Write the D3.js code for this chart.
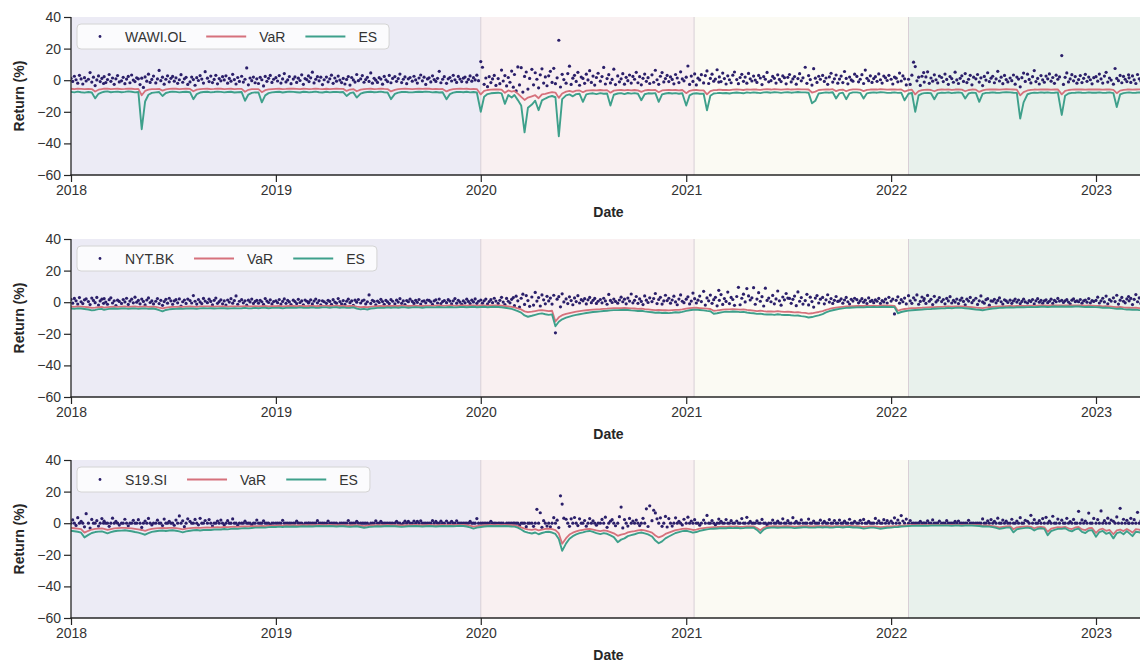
<!DOCTYPE html>
<html>
<head>
<meta charset="utf-8">
<script src="https://cdn.jsdelivr.net/npm/d3@7"></script>
<style>
  html, body { margin: 0; padding: 0; background: #ffffff; }
  svg { display: block; }
</style>
</head>
<body>
<svg id="chart" width="1140" height="664"></svg>
<script>
// ---------------------------------------------------------------
// Daily returns (%) sampled ten times per month, Jan 2018 - Mar 2023,
// with rolling 1-day VaR and ES (%) sampled five times per month.
// One row per month.
// ---------------------------------------------------------------
const tickers = ["WAWI.OL", "NYT.BK", "S19.SI"];
const yearTicks = [2018, 2019, 2020, 2021, 2022, 2023];
const returnTicks = [-60, -40, -20, 0, 20, 40];
const periodStarts = ["2018-01-01", "2020-01-01", "2021-01-15", "2022-02-01"];

const wawiReturns = [
  1.2,-0.8,2.5,0.3,-1.9,3.1,0.8,-2.4,1.6,-0.5,
  0.6,4.8,-1.2,1.9,-3.4,0.2,2.7,-0.9,1.1,-2.1,
  2.2,-1.5,0.4,3.6,-0.7,1.4,-2.6,0.9,2.9,-1.1,
  -0.4,1.8,-2.2,0.7,2.4,-1.6,3.3,0.1,-0.9,1.5,
  0.9,-2.8,1.3,-4.6,2.1,-0.6,3.8,-1.4,0.5,2.6,
  -1.7,0.8,6.2,-0.3,1.9,-2.5,0.6,2.8,-1.0,1.2,
  2.4,-0.6,1.5,-2.0,0.3,3.5,-1.3,0.9,1.8,-2.7,
  -1.1,2.0,0.4,-3.2,1.6,-0.2,2.9,0.7,-1.8,5.4,
  1.3,-0.9,2.6,-1.5,0.5,3.1,-2.3,1.0,-0.4,2.2,
  0.2,2.8,-1.9,1.1,-0.6,3.7,0.4,-2.4,1.7,-0.8,
  2.5,-1.2,0.6,7.8,-2.9,1.4,-0.3,2.0,-1.6,0.9,
  -2.1,1.8,0.3,-3.6,2.4,-0.7,1.2,3.0,-1.4,0.6,
  1.6,-0.5,2.9,-1.8,0.8,4.2,-1.1,0.2,2.3,-2.2,
  0.7,2.1,-1.4,1.3,-0.2,3.4,-2.6,1.0,0.4,2.7,
  -0.9,1.5,5.1,-1.7,0.6,2.2,-0.4,1.9,-2.8,0.3,
  2.0,-1.0,0.9,3.2,-2.0,1.4,-0.6,2.6,0.1,-1.5,
  1.1,-2.4,0.5,2.3,-3.1,1.7,0.2,-1.2,3.6,-0.3,
  0.8,2.9,-1.3,0.4,1.8,-0.8,4.6,-1.9,1.2,0.0,
  -1.4,1.6,0.7,-2.5,2.4,0.3,-0.9,3.0,-1.6,1.1,
  2.3,-0.7,1.0,3.9,-1.5,0.6,2.1,-2.2,0.9,1.7,
  -0.6,2.5,0.2,-1.8,1.4,3.3,-0.4,1.9,-2.7,0.8,
  1.5,-1.1,2.8,0.4,-0.8,1.2,5.6,-1.6,0.6,2.2,
  -2.0,0.9,1.7,-0.5,3.1,0.3,-1.4,2.4,0.7,-0.9,
  1.3,2.0,-1.2,0.5,2.7,-0.6,1.6,0.2,3.2,-0.3,
  11.8,8.2,-2.6,1.4,-4.1,2.2,-1.5,0.8,3.0,-3.3,
  1.0,-2.2,6.4,-0.5,2.9,-3.6,1.7,-1.3,5.8,-4.4,
  3.6,-6.8,8.4,-3.0,7.9,-7.5,2.4,5.2,-5.6,1.1,
  6.9,-2.9,4.7,0.6,-4.8,3.4,7.2,-1.8,2.1,-3.5,
  2.8,5.6,-1.4,7.5,-2.2,1.5,25.3,-4.3,3.7,0.4,
  -1.9,4.2,8.9,-2.7,1.3,3.1,-0.8,5.0,-3.2,2.0,
  1.1,-2.0,3.8,0.2,6.0,-1.4,2.6,-3.1,1.7,4.4,
  -0.6,2.3,8.1,-2.4,1.0,3.5,-1.7,0.5,7.0,-2.8,
  2.7,-1.0,0.9,4.1,-2.5,1.8,-0.3,3.3,-1.8,2.4,
  0.6,5.0,-1.6,2.2,-2.9,1.2,3.9,-0.7,1.6,-2.1,
  3.4,-1.3,6.3,0.3,-2.6,2.5,4.8,-1.1,1.0,3.0,
  -0.9,2.1,0.5,-2.3,3.6,1.4,-1.5,5.3,0.8,-0.4,
  1.9,9.0,-2.7,2.6,-0.8,4.0,-3.0,1.3,0.2,3.5,
  -1.7,2.9,5.9,-2.1,1.1,3.8,-0.6,0.7,6.6,-1.2,
  2.1,-0.9,4.5,1.0,-2.4,2.8,0.3,-1.6,3.2,5.2,
  0.4,-2.2,1.7,3.7,-0.7,2.0,-1.9,4.3,0.9,-0.5,
  2.6,0.1,-1.4,3.0,1.4,-2.8,2.2,0.6,4.9,-1.0,
  -0.3,2.4,1.2,-1.8,3.4,0.5,-0.9,2.7,1.6,-2.3,
  1.8,3.6,-1.1,0.8,2.3,-2.5,1.0,4.1,-0.4,1.5,
  8.2,-2.0,2.9,0.4,-3.1,7.3,1.3,-1.4,2.5,0.6,
  3.0,-0.8,1.4,-2.6,2.1,4.4,-1.2,0.9,3.3,-1.9,
  0.7,2.6,-1.5,5.5,1.1,-2.3,2.0,0.2,-0.6,3.8,
  2.4,-1.0,0.6,3.5,-2.1,6.4,1.2,-0.3,2.8,-1.4,
  1.0,2.2,-0.7,4.0,0.3,-1.8,2.6,1.5,-0.2,3.1,
  0.6,-2.4,2.0,1.3,-1.0,4.5,-0.5,2.7,0.9,-3.0,
  0.6,-2.7,3.2,11.4,8.6,-0.4,1.9,-3.3,2.5,4.8,
  -1.2,2.1,5.3,-2.0,1.4,-0.6,3.4,0.3,-1.7,2.6,
  1.7,-0.9,3.9,0.5,-2.6,2.3,1.0,-1.3,5.1,0.2,
  -2.1,1.2,2.8,-0.8,4.2,-1.5,0.6,3.1,-2.9,1.9,
  0.9,3.6,-1.2,1.5,-3.4,2.4,0.1,4.7,-0.9,1.3,
  2.5,-1.6,0.8,5.6,-0.5,1.9,-2.2,3.0,0.4,-1.1,
  1.4,-0.3,3.3,-2.5,2.0,0.7,-4.2,1.6,4.5,-0.8,
  3.8,0.5,-1.7,2.2,6.1,-0.9,1.1,-2.4,2.9,0.2,
  -1.3,2.6,0.9,4.0,-0.6,1.7,-2.0,3.2,0.6,2.1,
  15.6,-2.7,1.8,4.6,-1.1,0.8,3.5,-0.4,2.3,-1.9,
  0.4,2.9,-1.5,1.2,3.7,-0.7,2.0,0.3,-2.3,1.6,
  2.2,-0.6,3.9,0.8,-1.8,2.6,5.0,-1.2,1.4,0.1,
  -2.5,7.4,1.1,-0.3,3.0,-1.6,2.4,0.6,-0.9,3.4,
  1.5,-1.4,2.7,0.2,-2.1,3.6,0.9,-0.5,2.0,1.2
];
const wawiVaR = [
  -5.4,-5.6,-5.3,-5.5,-5.7, -5.5,-5.6,-7.2,-6.0,-5.6, -5.4,-5.3,-5.6,-5.5,-5.4,
  -5.6,-5.5,-5.3,-5.4,-5.6, -5.5,-9.5,-6.8,-6.0,-5.7, -5.6,-5.5,-6.6,-5.8,-5.5,
  -5.3,-5.4,-5.6,-5.5,-5.4, -5.5,-7.0,-6.0,-5.6,-5.5, -5.4,-5.6,-5.5,-5.3,-5.4,
  -5.6,-5.5,-5.4,-5.6,-5.5, -5.5,-7.3,-6.1,-5.7,-5.6, -5.6,-7.6,-6.3,-5.8,-5.6,
  -5.5,-5.4,-5.6,-5.5,-5.3, -5.4,-5.5,-5.6,-5.4,-5.5, -5.6,-5.5,-5.3,-5.5,-5.6,
  -5.4,-5.6,-5.5,-5.4,-5.5, -5.5,-6.8,-5.9,-5.6,-7.0, -6.0,-5.7,-5.5,-5.4,-5.6,
  -5.5,-5.3,-5.5,-5.6,-7.1, -6.1,-5.7,-5.5,-5.4,-5.5, -5.6,-5.5,-5.4,-5.5,-5.3,
  -5.4,-5.6,-5.5,-5.6,-5.5, -7.1,-6.1,-5.7,-5.5,-5.4, -5.5,-5.4,-5.6,-5.5,-5.6,
  -9.0,-6.8,-6.2,-6.0,-5.9, -5.8,-6.0,-8.0,-6.5,-7.2, -6.8,-8.5,-10.5,-12.5,-11.0,
  -10.2,-9.5,-11.4,-9.0,-8.6, -8.0,-7.6,-7.8,-11.2,-8.4, -7.2,-6.8,-7.4,-6.6,-6.5,
  -7.6,-6.6,-6.4,-6.3,-6.5, -6.2,-6.4,-6.3,-7.9,-6.6, -6.3,-6.2,-6.5,-6.1,-6.4,
  -6.2,-6.4,-7.4,-6.5,-6.2, -6.3,-6.2,-7.6,-6.5,-6.3, -6.1,-6.3,-6.2,-6.4,-6.2,
  -8.2,-6.7,-6.3,-6.2,-6.4, -6.4,-9.0,-6.9,-6.3,-6.2, -6.0,-6.2,-6.1,-6.3,-6.0,
  -5.9,-6.0,-6.2,-5.8,-6.0, -5.8,-5.9,-6.1,-5.8,-5.7, -5.9,-5.7,-5.8,-6.0,-5.8,
  -5.7,-5.9,-5.8,-5.6,-5.8, -5.8,-5.9,-7.8,-7.2,-6.2, -6.0,-5.8,-5.9,-5.7,-6.9,
  -6.1,-5.9,-7.0,-6.1,-5.8, -5.8,-6.0,-6.9,-6.1,-5.9, -5.8,-5.9,-5.7,-5.8,-6.0,
  -5.9,-5.8,-6.0,-5.9,-7.2, -6.3,-6.0,-9.0,-6.9,-6.3, -6.1,-6.0,-6.2,-7.0,-6.1,
  -5.9,-6.0,-5.8,-6.1,-5.9, -5.8,-6.0,-7.0,-6.2,-5.9, -6.0,-7.4,-6.4,-6.0,-5.9,
  -5.8,-5.9,-6.0,-5.8,-5.7, -5.8,-5.9,-6.0,-9.6,-7.5, -6.5,-6.1,-5.9,-6.0,-5.8,
  -5.9,-5.8,-6.0,-5.9,-5.8, -9.0,-6.8,-6.2,-6.0,-5.9, -5.8,-5.9,-6.0,-5.8,-5.9,
  -5.9,-5.8,-6.0,-5.9,-5.8, -6.1,-8.2,-6.6,-6.1,-5.9, -5.8,-6.0,-5.9,-5.8,-5.9
];
const wawiES = [
  -7.4,-7.7,-7.2,-7.6,-7.9, -7.5,-7.8,-11.5,-8.6,-7.7, -7.3,-7.1,-7.6,-7.4,-7.2,
  -7.6,-7.4,-7.1,-7.3,-7.7, -7.5,-31.0,-13.5,-9.2,-8.0, -7.7,-7.5,-10.0,-8.1,-7.5,
  -7.2,-7.4,-7.7,-7.5,-7.3, -7.6,-12.0,-8.8,-7.8,-7.5, -7.3,-7.7,-7.5,-7.2,-7.4,
  -7.7,-7.5,-7.3,-7.8,-7.6, -7.5,-13.0,-9.1,-8.0,-7.7, -7.8,-14.0,-9.6,-8.2,-7.7,
  -7.5,-7.3,-7.8,-7.5,-7.2, -7.4,-7.6,-7.8,-7.3,-7.5, -7.7,-7.5,-7.2,-7.6,-7.8,
  -7.3,-7.7,-7.5,-7.4,-7.6, -7.5,-10.0,-8.2,-7.7,-11.0, -8.5,-7.8,-7.5,-7.3,-7.6,
  -7.5,-7.2,-7.6,-7.8,-12.0, -8.7,-7.9,-7.5,-7.4,-7.6, -7.7,-7.5,-7.3,-7.5,-7.2,
  -7.4,-7.7,-7.5,-7.8,-7.6, -12.0,-8.8,-7.9,-7.5,-7.4, -7.6,-7.3,-7.7,-7.5,-7.8,
  -20.0,-10.5,-8.8,-8.3,-8.1, -7.9,-8.3,-15.0,-9.4,-11.0, -9.4,-12.6,-16.0,-33.0,-17.5,
  -15.4,-13.0,-19.0,-12.8,-11.6, -10.6,-10.0,-10.8,-35.5,-12.0, -9.6,-9.0,-10.2,-8.8,-8.6,
  -13.7,-9.0,-8.5,-8.3,-8.8, -8.2,-8.6,-8.4,-16.0,-9.2, -8.4,-8.2,-8.8,-8.1,-8.5,
  -8.2,-8.6,-12.7,-8.9,-8.3, -8.4,-8.2,-13.7,-9.0,-8.4, -8.1,-8.4,-8.2,-8.6,-8.3,
  -16.0,-9.6,-8.5,-8.3,-8.6, -8.6,-19.0,-9.8,-8.4,-8.2, -8.0,-8.3,-8.1,-8.4,-8.0,
  -7.8,-8.0,-8.3,-7.7,-8.0, -7.7,-7.9,-8.2,-7.7,-7.6, -7.9,-7.6,-7.7,-8.0,-7.7,
  -7.6,-7.9,-7.7,-7.5,-7.7, -7.7,-7.9,-14.6,-13.0,-8.4, -8.0,-7.7,-7.9,-7.6,-11.6,
  -8.3,-7.9,-12.0,-8.3,-7.7, -7.7,-8.0,-11.6,-8.3,-7.9, -7.7,-7.9,-7.6,-7.7,-8.0,
  -7.9,-7.7,-8.0,-7.9,-12.7, -8.6,-8.0,-20.0,-9.6,-8.5, -8.2,-8.0,-8.3,-12.0,-8.3,
  -7.9,-8.0,-7.7,-8.2,-7.9, -7.7,-8.0,-11.6,-8.4,-7.9, -8.0,-13.7,-8.7,-8.0,-7.9,
  -7.7,-7.9,-8.0,-7.7,-7.6, -7.7,-7.9,-8.0,-24.3,-14.0, -8.9,-8.2,-7.9,-8.0,-7.7,
  -7.9,-7.7,-8.0,-7.9,-7.7, -22.0,-9.8,-8.4,-8.0,-7.9, -7.7,-7.9,-8.0,-7.7,-7.9,
  -7.9,-7.7,-8.0,-7.9,-7.7, -8.2,-17.0,-9.0,-8.2,-7.9, -7.7,-8.0,-7.9,-7.7,-7.9
];

const nytReturns = [
  1.8,-0.6,2.4,0.9,-1.2,2.9,0.3,-0.9,1.5,2.1,
  0.4,-1.5,2.6,1.1,-0.3,3.0,-1.8,0.8,1.9,-0.7,
  2.2,0.1,-1.3,1.6,2.8,-0.5,0.9,-2.1,1.3,0.5,
  -0.8,1.7,0.2,2.5,-1.4,0.7,1.9,-0.4,3.2,0.0,
  1.1,-1.0,2.0,0.5,-1.7,1.4,2.7,-0.2,0.8,-1.1,
  0.6,2.3,-0.9,1.2,-2.0,0.4,1.8,-0.6,2.5,0.9,
  -1.3,0.8,1.6,-0.4,2.1,-2.4,0.3,1.4,-0.8,2.0,
  1.0,-0.5,4.2,0.6,-1.2,1.7,0.2,-0.9,2.4,0.7,
  -0.3,1.9,0.5,-1.6,1.2,2.6,-0.7,0.4,1.5,-1.0,
  0.8,-1.8,1.4,0.1,2.2,-0.6,1.0,4.0,-1.3,0.6,
  1.6,-0.4,0.9,-1.9,1.3,0.2,2.0,-0.8,0.5,1.1,
  -0.6,1.2,0.3,-1.4,2.3,0.7,-0.2,1.5,-1.1,0.4,
  0.9,-0.3,1.7,-1.2,0.5,2.1,-0.7,1.1,0.2,-1.5,
  1.3,0.4,-0.9,1.8,-0.2,0.8,-1.6,1.4,0.6,-0.5,
  0.2,1.5,-1.1,0.7,2.0,-0.4,1.0,-1.7,0.9,0.3,
  -0.7,1.2,0.5,-1.3,1.6,0.1,-0.6,2.3,0.4,-1.0,
  1.0,-1.4,0.6,1.9,-0.3,0.8,-2.0,1.3,0.0,1.7,
  -0.5,0.9,1.4,-1.1,0.3,4.6,-0.8,1.2,0.5,-1.6,
  0.7,-0.2,1.8,0.4,-1.3,1.1,0.2,-0.9,1.6,0.6,
  -1.0,1.3,0.1,2.2,-0.7,0.8,-1.5,1.0,0.3,1.9,
  0.5,-0.8,1.2,-0.1,1.7,-1.2,0.6,0.9,-0.4,1.4,
  1.1,0.2,-1.4,0.8,1.5,-0.5,2.0,-0.9,0.4,1.0,
  -0.3,1.6,0.7,-1.1,0.9,2.3,-0.6,1.2,0.1,-1.3,
  0.8,-0.4,1.9,0.5,-0.9,1.3,0.2,2.1,-0.7,0.6,
  1.4,-0.6,0.9,2.0,-1.1,0.4,1.6,-0.3,2.5,0.7,
  -0.8,1.2,3.1,0.1,-1.5,2.4,0.6,-0.4,1.8,2.9,
  -2.2,3.8,0.9,-3.1,2.5,5.1,-1.4,4.2,1.0,-2.6,
  3.3,-1.8,6.2,0.7,2.9,-2.4,4.6,1.5,-1.0,3.7,
  0.8,2.6,-1.2,4.4,-19.4,1.9,3.5,-2.9,5.3,0.2,
  2.1,-0.9,3.4,1.0,-1.6,2.7,0.4,4.1,-0.5,1.6,
  0.9,2.2,-1.1,1.5,3.0,-0.3,1.2,2.4,-0.8,0.6,
  1.7,-0.4,2.5,0.8,-1.3,4.9,1.1,-0.2,2.0,0.5,
  -0.6,1.4,3.2,0.3,1.9,-1.0,2.6,0.7,5.2,-0.4,
  1.2,3.6,-0.7,2.1,0.5,-1.5,4.0,1.3,-0.2,2.8,
  0.4,2.3,5.5,-0.9,1.7,3.1,-1.2,0.8,4.4,1.0,
  2.5,-0.6,1.4,3.8,0.2,-1.6,2.0,4.6,0.6,-0.3,
  1.9,3.4,-1.1,0.7,5.8,2.2,-0.5,1.3,3.9,0.4,
  6.9,-1.8,2.7,0.9,4.5,-0.7,1.6,3.1,-2.3,7.5,
  1.2,4.8,-1.4,2.3,0.5,6.4,-0.9,3.0,1.7,-2.0,
  3.6,9.4,-1.6,2.5,5.1,0.2,8.6,4.0,1.4,2.8,
  9.2,-1.3,2.0,6.0,0.6,3.5,-2.4,8.9,1.1,2.6,
  0.3,4.3,-1.0,2.1,7.1,0.9,-1.9,3.3,1.5,5.5,
  2.6,2.4,-0.7,1.8,3.9,-2.2,6.5,0.6,2.9,-1.2,
  1.0,5.0,-1.7,3.2,0.4,-3.1,2.6,4.2,-0.5,1.9,
  3.0,-1.0,1.5,4.7,0.1,2.3,-0.8,1.2,3.6,0.5,
  0.9,2.1,-0.6,1.4,3.0,0.3,-1.2,1.8,0.7,2.5,
  1.6,-0.4,0.8,2.2,0.0,1.3,-0.9,2.7,0.5,1.1,
  -0.3,1.5,0.6,2.4,-0.8,1.0,0.2,1.9,-0.5,3.1,
  0.7,2.0,-7.4,1.2,3.4,-0.6,1.6,0.3,2.6,-1.1,
  4.1,0.9,-0.7,2.8,1.4,4.6,-1.3,0.5,3.3,1.0,
  2.2,-0.8,4.3,0.6,1.8,-1.5,3.7,0.2,1.3,2.9,
  0.4,1.7,-1.0,2.4,0.8,3.5,-0.5,1.1,0.1,2.0,
  -0.9,1.3,2.6,0.5,-1.6,1.9,0.7,3.0,-0.3,1.2,
  2.5,-1.4,0.9,4.0,0.2,-0.6,1.6,2.2,-1.9,0.8,
  0.6,1.8,-0.4,1.1,2.7,0.3,-1.2,1.5,0.9,-0.2,
  1.3,-0.7,0.8,2.0,0.1,1.4,-0.9,0.5,1.9,0.2,
  -0.5,1.0,0.4,1.7,-1.1,0.9,2.2,0.0,1.2,-0.6,
  0.8,1.5,-0.3,0.6,1.9,-0.8,1.1,0.3,2.4,0.7,
  1.2,-0.2,0.9,1.6,0.1,-1.0,1.3,2.1,0.4,0.8,
  0.3,1.7,-0.6,0.8,1.4,0.0,2.3,-0.4,1.0,0.5,
  1.1,3.2,-0.5,0.9,2.5,0.2,3.9,-1.0,1.6,0.7,
  2.8,0.4,4.4,-1.2,1.3,3.0,0.6,-0.4,2.1,3.6,
  0.9,2.4,-1.5,1.8,4.8,0.3,2.7,-0.8,1.5,3.3
];
const nytVaR = [
  -2.8,-2.9,-2.7,-2.8,-3.0, -3.2,-3.6,-3.4,-3.1,-3.0, -3.4,-3.1,-2.9,-2.8,-2.9,
  -2.8,-2.7,-2.9,-2.8,-2.7, -2.9,-2.8,-2.7,-2.9,-2.8, -3.0,-3.5,-3.9,-3.4,-3.1,
  -3.0,-2.9,-2.8,-2.9,-2.8, -2.7,-2.8,-2.9,-2.7,-2.6, -2.7,-2.6,-2.8,-2.7,-2.6,
  -2.6,-2.8,-2.7,-2.6,-2.7, -2.6,-2.5,-2.7,-2.6,-2.5, -2.6,-2.5,-2.4,-2.6,-2.5,
  -2.5,-2.4,-2.6,-2.5,-2.4, -2.4,-2.5,-2.3,-2.4,-2.5, -2.4,-2.3,-2.5,-2.4,-2.3,
  -2.3,-2.4,-2.3,-2.2,-2.4, -2.3,-2.5,-2.4,-2.3,-2.8, -3.1,-2.9,-3.2,-2.8,-2.6,
  -2.5,-2.4,-2.5,-2.3,-2.4, -2.3,-2.4,-2.2,-2.3,-2.4, -2.3,-2.2,-2.3,-2.4,-2.2,
  -2.2,-2.3,-2.2,-2.1,-2.3, -2.2,-2.1,-2.2,-2.3,-2.1, -2.1,-2.2,-2.1,-2.0,-2.2,
  -2.1,-2.0,-2.2,-2.1,-2.0, -2.1,-2.2,-2.4,-2.6,-2.9, -3.3,-3.9,-4.6,-5.8,-6.3,
  -6.0,-5.6,-5.2,-5.0,-5.3, -5.6,-5.4,-12.2,-9.6,-8.2, -7.4,-6.9,-6.4,-6.0,-5.7,
  -5.4,-5.1,-4.9,-4.7,-4.5, -4.4,-4.2,-4.1,-3.9,-3.8, -3.8,-3.7,-3.6,-3.7,-3.9,
  -4.0,-4.2,-4.1,-4.4,-4.6, -4.8,-5.0,-4.9,-5.1,-5.0, -5.2,-5.0,-4.8,-4.9,-4.6,
  -4.1,-3.8,-3.6,-3.5,-3.7, -3.9,-4.1,-4.3,-5.4,-5.2, -5.0,-4.7,-4.5,-4.6,-4.4,
  -4.5,-4.7,-4.6,-4.9,-5.1, -5.3,-5.6,-5.4,-5.7,-5.9, -5.8,-6.0,-5.7,-5.9,-6.1,
  -6.0,-6.2,-6.4,-6.3,-6.6, -6.8,-7.2,-7.0,-6.6,-6.2, -5.6,-4.9,-4.3,-3.8,-3.4,
  -3.1,-2.9,-2.7,-2.6,-2.5, -2.4,-2.3,-2.4,-2.2,-2.3, -2.2,-2.3,-2.2,-2.1,-2.2,
  -2.2,-2.3,-5.4,-4.7,-4.3, -4.0,-3.8,-3.7,-3.6,-3.5, -3.4,-3.3,-3.2,-3.1,-3.0,
  -2.9,-2.8,-2.7,-2.8,-2.7, -2.6,-2.7,-2.8,-3.0,-3.2, -3.4,-3.6,-3.8,-3.5,-3.2,
  -3.0,-2.8,-2.7,-2.6,-2.5, -2.4,-2.5,-2.4,-2.3,-2.4, -2.3,-2.2,-2.3,-2.2,-2.1,
  -2.1,-2.2,-2.1,-2.0,-2.1, -2.0,-2.1,-2.0,-2.1,-2.0, -2.0,-2.1,-2.2,-2.1,-2.2,
  -2.3,-2.4,-2.6,-2.5,-2.7, -2.9,-3.1,-3.0,-3.3,-3.5, -3.4,-3.6,-3.5,-3.7,-3.8
];
const nytES = [
  -4.0,-4.2,-3.9,-4.0,-4.3, -4.6,-5.2,-4.9,-4.4,-4.3, -4.8,-4.4,-4.1,-4.0,-4.2,
  -4.0,-3.9,-4.2,-4.0,-3.9, -4.2,-4.0,-3.9,-4.2,-4.0, -4.3,-5.0,-5.8,-4.9,-4.5,
  -4.3,-4.2,-4.0,-4.2,-4.0, -3.9,-4.0,-4.2,-3.9,-3.8, -3.9,-3.8,-4.0,-3.9,-3.8,
  -3.8,-4.0,-3.9,-3.8,-3.9, -3.8,-3.6,-3.9,-3.8,-3.6, -3.8,-3.6,-3.5,-3.8,-3.6,
  -3.6,-3.5,-3.8,-3.6,-3.5, -3.5,-3.6,-3.3,-3.5,-3.6, -3.5,-3.3,-3.6,-3.5,-3.3,
  -3.3,-3.5,-3.3,-3.2,-3.5, -3.3,-3.6,-3.5,-3.3,-4.0, -4.5,-4.2,-4.6,-4.0,-3.8,
  -3.6,-3.5,-3.6,-3.3,-3.5, -3.3,-3.5,-3.2,-3.3,-3.5, -3.3,-3.2,-3.3,-3.5,-3.2,
  -3.2,-3.3,-3.2,-3.0,-3.3, -3.2,-3.0,-3.2,-3.3,-3.0, -3.0,-3.2,-3.0,-2.9,-3.2,
  -3.0,-2.9,-3.2,-3.0,-2.9, -3.0,-3.2,-3.5,-3.8,-4.2, -4.8,-5.6,-6.6,-8.4,-9.2,
  -8.6,-8.0,-7.4,-7.1,-7.6, -8.0,-7.7,-15.2,-12.4,-10.8, -9.8,-9.1,-8.5,-8.0,-7.6,
  -7.2,-6.8,-6.5,-6.2,-6.0, -5.8,-5.6,-5.4,-5.2,-5.0, -5.0,-4.9,-4.8,-4.9,-5.2,
  -5.3,-5.6,-5.4,-5.8,-6.1, -6.4,-6.7,-6.5,-6.8,-6.7, -6.9,-6.7,-6.4,-6.5,-6.1,
  -5.5,-5.1,-4.8,-4.7,-4.9, -5.2,-5.5,-5.7,-7.3,-7.0, -6.7,-6.3,-6.0,-6.1,-5.9,
  -6.0,-6.3,-6.1,-6.5,-6.8, -7.0,-7.4,-7.2,-7.6,-7.8, -7.7,-8.0,-7.6,-7.9,-8.1,
  -8.0,-8.3,-8.5,-8.4,-8.8, -9.1,-9.7,-9.4,-8.8,-8.3, -7.5,-6.5,-5.7,-5.1,-4.6,
  -4.2,-3.9,-3.6,-3.5,-3.4, -3.3,-3.1,-3.3,-3.0,-3.1, -3.0,-3.1,-3.0,-2.9,-3.0,
  -3.0,-3.1,-7.0,-6.2,-5.7, -5.3,-5.1,-4.9,-4.8,-4.7, -4.5,-4.4,-4.3,-4.1,-4.0,
  -3.9,-3.8,-3.6,-3.8,-3.6, -3.5,-3.6,-3.8,-4.0,-4.3, -4.6,-4.8,-5.1,-4.7,-4.3,
  -4.0,-3.8,-3.6,-3.5,-3.4, -3.2,-3.4,-3.2,-3.1,-3.2, -3.1,-3.0,-3.1,-3.0,-2.9,
  -2.9,-3.0,-2.9,-2.7,-2.9, -2.7,-2.9,-2.7,-2.9,-2.7, -2.7,-2.9,-3.0,-2.9,-3.0,
  -3.1,-3.2,-3.5,-3.4,-3.6, -3.9,-4.2,-4.0,-4.4,-4.7, -4.6,-4.8,-4.7,-5.0,-5.1
];

const s19Returns = [
  0,2.1,0,-1.4,3.5,0,1.2,0,-2.3,6.0,
  0,-3.1,2.4,0,0,1.6,-1.8,0,2.9,0,
  1.3,0,0,-2.0,0,3.2,0,1.1,0,-1.2,
  0,0,2.5,0,-1.6,0,0,1.8,0,0,
  2.2,0,-2.7,0,1.4,0,3.0,0,-1.1,0,
  0,1.9,0,0,-1.5,2.6,0,0,1.2,0,
  0,-1.3,2.0,0,4.6,0,1.5,-2.2,0,2.8,
  1.1,0,0,2.4,0,-1.0,3.1,0,0,1.7,
  0,2.3,0,-1.8,0,0,1.4,0,2.0,0,
  -1.2,0,1.6,0,0,2.7,0,0,-1.4,0,
  0,0,1.3,0,0,0,-1.1,0,0,2.0,
  0,0,0,1.5,0,0,0,-1.0,0,0,
  0,0,0,0,1.8,0,0,0,0,0,
  0,0,1.3,0,0,0,-1.2,0,0,0,
  0,0,0,0,0,1.6,0,0,0,0,
  0,1.4,0,0,0,0,0,-1.1,0,0,
  0,0,0,1.7,0,0,0,0,1.2,0,
  0,0,0,0,0,-1.3,0,0,0,1.5,
  0,0,1.1,0,0,0,0,0,0,0,
  0,1.2,0,0,-1.0,0,1.3,0,1.1,0,
  0,1.4,0,1.2,0,1.5,0,0,0,0,
  0,0,1.6,0,1.1,0,0,1.3,0,0,
  1.4,0,0,1.2,0,0,1.5,0,0,0,
  0,0,0,0,1.1,0,0,0,2.9,0,
  0,0,0,0,0,0,1.2,0,0,0,
  0,0,0,0,-1.1,0,0,0,0,0,
  0,0,0,-1.4,0,0,0,-2.2,0,0,
  0,-2.0,0,8.8,0,6.6,-2.6,1.6,0,-1.8,
  0,-2.3,0,3.5,0,1.9,-2.8,17.3,12.1,3.2,
  2.5,0,-2.0,2.8,0,3.6,0,-1.5,2.8,0,
  0,1.7,-1.9,0,2.9,0,1.5,0,-1.3,0,
  0,2.4,0,3.8,-2.6,0,1.3,2.2,0,-1.6,
  0,4.1,10.2,-3.0,2.3,0,-1.8,3.0,0,1.4,
  0,2.0,0,-1.5,0,3.1,0,9.1,-2.1,11.0,
  1.6,8.2,6.5,2.8,0,3.4,-2.0,0,4.3,-2.4,
  2.9,0,-1.8,0,3.4,0,1.2,0,-1.1,2.5,
  0,3.8,0,1.4,0,2.2,0,0,-1.3,0,
  2.0,0,4.9,0,0,1.7,0,-1.0,0,2.6,
  0,1.2,0,0,2.3,0,0,1.6,0,0,
  1.4,0,0,2.9,0,0,3.7,0,1.1,0,
  0,0,1.5,0,0,2.4,0,0,-1.0,0,
  0,2.0,0,0,1.3,0,0,2.8,0,0,
  1.6,0,0,3.5,0,1.2,0,0,2.1,0,
  0,0,2.6,0,0,1.4,0,0,0,1.9,
  0,1.1,0,0,2.3,0,0,1.7,0,0,
  2.0,0,0,1.3,0,0,2.5,0,0,1.1,
  0,0,1.8,0,2.4,0,0,1.2,0,0,
  0,3.0,0,1.5,0,0,2.2,0,1.6,0,
  1.3,0,3.4,0,2.0,0,4.8,1.4,0,2.6,
  0,1.7,0,0,0,0,0,1.2,0,0,
  0,0,1.5,0,0,2.1,0,0,0,1.3,
  0,0,0,1.6,0,0,0,0,1.1,0,
  1.4,0,0,0,0,0,1.8,0,0,0,
  0,0,0,0,2.7,0,0,1.5,0,2.3,
  0,1.2,0,3.2,0,0,2.0,0,1.3,0,
  0,2.5,0,0,1.4,0,3.5,0,0,1.8,
  1.2,0,5.0,0,2.2,0,0,1.6,0,2.9,
  0,3.7,0,1.3,0,4.4,0,0,2.6,0,
  1.9,0,0,3.1,0,1.0,0,2.4,0,0,
  7.5,0,2.1,0,1.4,0,6.4,0,0,3.0,
  0,2.3,0,7.8,0,1.6,0,3.2,0,2.0,
  1.2,0,4.0,0,9.4,0,2.5,0,1.8,0,
  0,3.1,0,2.2,0,6.9,0,1.4,0,2.8
];
const s19VaR = [
  -3.0,-3.2,-3.4,-3.8,-6.0, -4.8,-4.0,-3.6,-3.4,-3.3, -3.6,-4.2,-3.7,-3.3,-3.1,
  -3.0,-2.9,-3.1,-3.3,-3.6, -3.9,-4.3,-4.8,-4.1,-3.6, -3.3,-3.1,-3.0,-3.2,-3.0,
  -2.9,-3.1,-3.4,-3.9,-3.4, -3.1,-2.9,-2.8,-3.0,-2.8, -2.7,-2.8,-2.6,-2.5,-2.6,
  -2.4,-2.5,-2.3,-2.2,-2.3, -2.1,-2.0,-2.1,-1.9,-1.8, -1.8,-1.7,-1.8,-1.6,-1.5,
  -1.5,-1.4,-1.5,-1.3,-1.4, -1.3,-1.4,-1.3,-1.2,-1.3, -1.2,-1.3,-1.2,-1.1,-1.2,
  -1.2,-1.1,-1.2,-1.3,-1.2, -1.2,-1.3,-1.4,-1.3,-1.2, -1.5,-1.8,-1.6,-1.4,-1.3,
  -1.2,-1.3,-1.2,-1.1,-1.2, -1.2,-1.3,-1.4,-1.3,-1.2, -1.2,-1.1,-1.2,-1.3,-1.2,
  -1.1,-1.2,-1.3,-1.2,-1.1, -1.2,-1.1,-1.2,-1.1,-1.0, -1.1,-1.3,-1.6,-2.2,-1.8,
  -1.5,-1.3,-1.2,-1.1,-1.2, -1.1,-1.2,-1.1,-1.2,-1.3, -1.4,-1.8,-2.6,-3.4,-3.9,
  -4.2,-3.8,-4.5,-4.0,-3.6, -3.5,-3.8,-4.4,-6.5,-13.0, -9.5,-7.2,-6.0,-5.2,-4.6,
  -4.2,-3.8,-3.6,-4.0,-4.6, -5.0,-4.6,-4.9,-5.6,-6.4, -8.0,-7.2,-6.8,-5.8,-5.4,
  -5.0,-4.5,-4.2,-4.6,-5.1, -6.0,-7.8,-9.0,-8.2,-6.8, -6.0,-5.2,-4.4,-4.0,-3.6,
  -3.4,-3.8,-4.3,-4.0,-3.5, -3.1,-2.8,-2.6,-2.5,-2.4, -2.3,-2.2,-2.3,-2.1,-2.2,
  -2.1,-2.3,-2.2,-2.0,-2.1, -2.0,-3.0,-4.5,-2.8,-2.1, -2.0,-1.9,-2.1,-2.0,-1.9,
  -1.9,-2.0,-2.2,-2.1,-1.9, -1.8,-1.9,-2.0,-1.9,-1.8, -1.9,-1.8,-1.9,-2.0,-1.8,
  -1.8,-1.9,-1.8,-1.7,-1.9, -1.9,-2.1,-2.4,-2.2,-2.0, -2.0,-2.2,-2.5,-2.3,-2.1,
  -2.0,-1.8,-1.7,-1.5,-1.4, -1.3,-1.2,-1.2,-1.1,-1.2, -1.1,-1.2,-1.1,-1.0,-1.1,
  -1.1,-1.0,-1.1,-1.2,-1.1, -1.1,-1.2,-1.1,-1.0,-1.1, -1.2,-1.3,-1.5,-1.4,-1.6,
  -1.8,-2.1,-2.6,-2.3,-2.0, -1.9,-3.8,-2.6,-2.4,-2.2, -2.0,-2.3,-3.2,-2.5,-2.3,
  -2.6,-5.4,-3.5,-2.9,-2.5, -2.6,-2.3,-3.2,-3.7,-2.7, -2.4,-3.9,-4.4,-3.2,-3.0,
  -6.2,-4.0,-3.5,-4.8,-4.2, -7.0,-4.5,-4.0,-5.0,-3.6, -4.5,-5.9,-3.8,-4.1,-4.8
];
const s19ES = [
  -4.8,-5.1,-5.4,-6.0,-9.0, -7.4,-6.2,-5.6,-5.3,-5.2, -5.6,-6.4,-5.7,-5.1,-4.8,
  -4.7,-4.5,-4.8,-5.1,-5.6, -6.0,-6.6,-7.3,-6.3,-5.5, -5.1,-4.8,-4.6,-4.9,-4.6,
  -4.5,-4.8,-5.2,-5.8,-5.2, -4.8,-4.5,-4.3,-4.6,-4.3, -4.2,-4.3,-4.0,-3.9,-4.0,
  -3.7,-3.9,-3.6,-3.4,-3.6, -3.3,-3.1,-3.3,-3.0,-2.8, -2.8,-2.7,-2.8,-2.5,-2.4,
  -2.4,-2.2,-2.4,-2.1,-2.2, -2.1,-2.2,-2.1,-1.9,-2.1, -1.9,-2.1,-1.9,-1.8,-1.9,
  -1.9,-1.8,-1.9,-2.1,-1.9, -1.9,-2.1,-2.2,-2.1,-1.9, -2.4,-2.9,-2.6,-2.2,-2.1,
  -1.9,-2.1,-1.9,-1.8,-1.9, -1.9,-2.1,-2.2,-2.1,-1.9, -1.9,-1.8,-1.9,-2.1,-1.9,
  -1.8,-1.9,-2.1,-1.9,-1.8, -1.9,-1.8,-1.9,-1.8,-1.6, -1.8,-2.1,-2.6,-3.4,-2.8,
  -2.4,-2.1,-1.9,-1.8,-1.9, -1.8,-1.9,-1.8,-1.9,-2.1, -2.2,-2.8,-4.0,-5.3,-6.0,
  -6.5,-5.9,-7.0,-6.2,-5.6, -5.4,-5.9,-6.8,-10.0,-17.5, -12.8,-9.8,-8.2,-7.1,-6.3,
  -5.8,-5.2,-4.9,-5.5,-6.3, -6.9,-6.3,-6.7,-7.7,-8.8, -12.0,-10.4,-9.6,-8.2,-7.6,
  -7.0,-6.3,-5.9,-6.4,-7.1, -8.4,-11.0,-12.7,-11.5,-9.6, -8.4,-7.3,-6.2,-5.6,-5.0,
  -4.8,-5.3,-6.0,-5.6,-4.9, -4.3,-3.9,-3.6,-3.5,-3.4, -3.2,-3.1,-3.2,-2.9,-3.1,
  -2.9,-3.2,-3.1,-2.8,-2.9, -2.8,-4.2,-6.3,-4.0,-3.0, -2.8,-2.7,-2.9,-2.8,-2.7,
  -2.7,-2.8,-3.1,-2.9,-2.7, -2.5,-2.7,-2.8,-2.7,-2.5, -2.7,-2.5,-2.7,-2.8,-2.5,
  -2.5,-2.7,-2.5,-2.4,-2.7, -2.7,-2.9,-3.4,-3.1,-2.8, -2.8,-3.1,-3.5,-3.2,-2.9,
  -2.8,-2.5,-2.4,-2.1,-2.0, -1.8,-1.7,-1.7,-1.5,-1.7, -1.5,-1.7,-1.5,-1.4,-1.5,
  -1.5,-1.4,-1.5,-1.7,-1.5, -1.5,-1.7,-1.5,-1.4,-1.5, -1.7,-1.8,-2.1,-2.0,-2.2,
  -2.5,-2.9,-3.6,-3.2,-2.8, -2.7,-5.8,-3.8,-3.4,-3.1, -2.8,-3.2,-4.6,-3.5,-3.2,
  -3.6,-7.6,-5.0,-4.2,-3.6, -3.6,-3.2,-4.5,-5.2,-3.9, -3.4,-5.5,-6.2,-4.6,-4.4,
  -8.6,-5.6,-4.9,-6.7,-5.9, -9.6,-6.3,-5.6,-7.0,-5.0, -6.3,-8.2,-5.4,-5.7,-6.8
];

const panels = [
  { ticker: tickers[0], returns: wawiReturns, VaR: wawiVaR, ES: wawiES },
  { ticker: tickers[1], returns: nytReturns,  VaR: nytVaR,  ES: nytES },
  { ticker: tickers[2], returns: s19Returns,  VaR: s19VaR,  ES: s19ES }
];

// ---------------------------------------------------------------
// Styling and layout
// ---------------------------------------------------------------
const WIDTH = 1140;
const FONT = '"Liberation Sans", Arial, Helvetica, sans-serif';
const periodFills = ["#ecebf5", "#f9f0f1", "#fbfaf3", "#e8f1ec"];
const pointColor = "#2b1f6a";
const varColor = "#d6717c";
const esColor = "#3ea08b";
const spineColor = "#262626";
const textColor = "#333333";

const plotLeft = 71;
const plotHeight = 158;
const panelTops = [17, 239, 460];

const parseDay = d3.timeParse("%Y-%m-%d");
// sample index -> calendar date (10 return samples / 5 risk samples per month)
const returnDate = i => new Date(2018, Math.floor(i / 10), 1 + (i % 10) * 3);
const riskDate = i => new Date(2018, Math.floor(i / 5), 1 + (i % 5) * 6);

const x = d3.scaleTime()
  .domain([new Date(2018, 0, 1), new Date(2023, 0, 1)])
  .range([plotLeft, 1096]);

const svg = d3.select("#chart");
svg.append("rect").attr("width", WIDTH).attr("height", 664).attr("fill", "#ffffff");

svg.append("defs").append("clipPath").attr("id", "plotClip")
  .append("rect").attr("x", plotLeft).attr("y", 0).attr("width", WIDTH - plotLeft).attr("height", 664);

panels.forEach((p, idx) => {
  const top = panelTops[idx];
  const bottom = top + plotHeight;
  const y = d3.scaleLinear().domain([-60, 40]).range([bottom, top]);
  const g = svg.append("g");

  // shaded market periods
  const starts = periodStarts.map(parseDay);
  starts.forEach((s, j) => {
    const x0 = x(s);
    const x1 = j < starts.length - 1 ? x(starts[j + 1]) : WIDTH;
    g.append("rect")
      .attr("x", x0).attr("y", top)
      .attr("width", x1 - x0).attr("height", plotHeight)
      .attr("fill", periodFills[j]);
  });
  starts.slice(1).forEach(s => {
    g.append("line")
      .attr("x1", x(s)).attr("x2", x(s))
      .attr("y1", top).attr("y2", bottom)
      .attr("stroke", "#d8cfd6").attr("stroke-width", 1);
  });

  const plot = g.append("g").attr("clip-path", "url(#plotClip)");

  // daily returns
  plot.append("g").selectAll("circle")
    .data(p.returns)
    .join("circle")
    .attr("cx", (d, i) => x(returnDate(i)))
    .attr("cy", d => y(d))
    .attr("r", 1.6)
    .attr("fill", pointColor);

  // VaR and ES lines
  const line = d3.line()
    .x((d, i) => x(riskDate(i)))
    .y(d => y(d));
  plot.append("path").datum(p.VaR)
    .attr("d", line).attr("fill", "none")
    .attr("stroke", varColor).attr("stroke-width", 1.8).attr("stroke-linejoin", "round");
  plot.append("path").datum(p.ES)
    .attr("d", line).attr("fill", "none")
    .attr("stroke", esColor).attr("stroke-width", 1.9).attr("stroke-linejoin", "round");

  // axes
  const yAxis = d3.axisLeft(y).tickValues(returnTicks).tickSize(7).tickPadding(3);
  g.append("g")
    .attr("transform", `translate(${plotLeft},0)`)
    .call(yAxis)
    .call(a => a.select(".domain").remove())
    .attr("font-family", FONT).attr("font-size", 14)
    .call(a => a.selectAll("text").attr("fill", textColor))
    .call(a => a.selectAll("line").attr("stroke", spineColor).attr("stroke-width", 1.2));

  const xAxis = d3.axisBottom(x)
    .tickValues(yearTicks.map(yr => new Date(yr, 0, 1)))
    .tickFormat(d3.timeFormat("%Y"))
    .tickSize(7).tickPadding(3);
  g.append("g")
    .attr("transform", `translate(0,${bottom})`)
    .call(xAxis)
    .call(a => a.select(".domain").remove())
    .attr("font-family", FONT).attr("font-size", 14)
    .call(a => a.selectAll("text").attr("fill", textColor))
    .call(a => a.selectAll("line").attr("stroke", spineColor).attr("stroke-width", 1.2));

  // spines
  g.append("line").attr("x1", plotLeft).attr("x2", plotLeft).attr("y1", top).attr("y2", bottom + 0.6)
    .attr("stroke", spineColor).attr("stroke-width", 1.3);
  g.append("line").attr("x1", plotLeft - 0.6).attr("x2", WIDTH).attr("y1", bottom).attr("y2", bottom)
    .attr("stroke", spineColor).attr("stroke-width", 1.3);

  // axis titles
  g.append("text")
    .attr("transform", `translate(24,${(top + bottom) / 2}) rotate(-90)`)
    .attr("text-anchor", "middle")
    .attr("font-family", FONT).attr("font-size", 14).attr("font-weight", "bold")
    .attr("fill", spineColor)
    .text("Return (%)");
  g.append("text")
    .attr("x", (plotLeft + 1146) / 2).attr("y", bottom + 42)
    .attr("text-anchor", "middle")
    .attr("font-family", FONT).attr("font-size", 14).attr("font-weight", "bold")
    .attr("fill", spineColor)
    .text("Date");

  // legend
  const lg = g.append("g");
  const box = lg.append("rect")
    .attr("x", 77).attr("y", top + 7).attr("height", 25).attr("rx", 4)
    .attr("fill", "#ffffff").attr("fill-opacity", 0.8)
    .attr("stroke", "#d4d4d4").attr("stroke-width", 1);
  const ly = top + 19.5;
  const labelStyle = sel => sel.attr("font-family", FONT).attr("font-size", 14)
    .attr("fill", textColor).attr("y", ly + 5);
  lg.append("circle").attr("cx", 100).attr("cy", ly).attr("r", 1.4).attr("fill", pointColor);
  let t = lg.append("text").attr("x", 125).call(labelStyle).text(p.ticker);
  let xe = 125 + t.node().getComputedTextLength();
  [["VaR", varColor], ["ES", esColor]].forEach(([name, col]) => {
    const lx = xe + 20;
    lg.append("line").attr("x1", lx).attr("x2", lx + 40).attr("y1", ly).attr("y2", ly)
      .attr("stroke", col).attr("stroke-width", 1.8);
    t = lg.append("text").attr("x", lx + 53).call(labelStyle).text(name);
    xe = lx + 53 + t.node().getComputedTextLength();
  });
  box.attr("width", xe + 12 - 77);
});
</script>
</body>
</html>
